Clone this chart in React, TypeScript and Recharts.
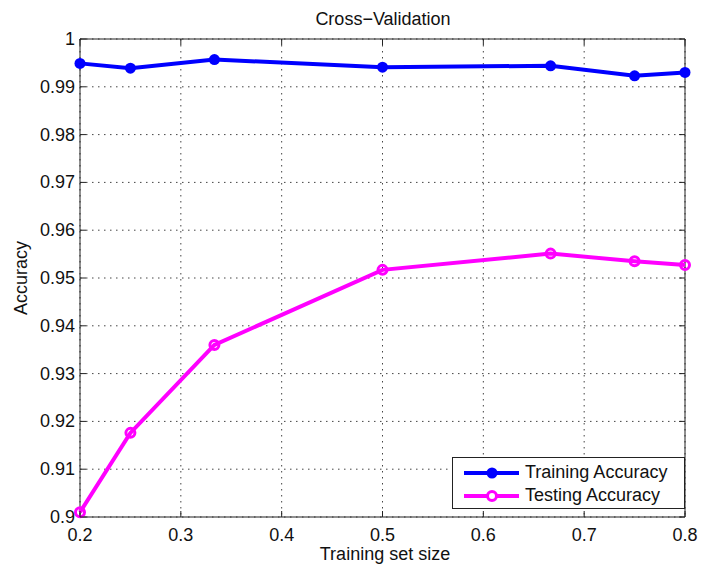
import { LineChart, Line, XAxis, YAxis, CartesianGrid, ReferenceArea } from 'recharts';

const trainSizes = [0.2, 0.25, 0.3333, 0.5, 0.6667, 0.75, 0.8];
const trainingAccuracy = [0.9949, 0.9939, 0.9957, 0.9941, 0.9944, 0.9923, 0.993];
const testingAccuracy = [0.901, 0.9176, 0.936, 0.9517, 0.9551, 0.9535, 0.9527];
const xTicks = [0.2, 0.3, 0.4, 0.5, 0.6, 0.7, 0.8];
const yTicks = [0.9, 0.91, 0.92, 0.93, 0.94, 0.95, 0.96, 0.97, 0.98, 0.99, 1];
const seriesNames = ['Training Accuracy', 'Testing Accuracy'];

const data = trainSizes.map((s, i) => ({
  size: s,
  train: trainingAccuracy[i],
  test: testingAccuracy[i],
}));

const W = 701;
const H = 568;
const PL = 80;
const PR = 685;
const PT = 39;
const PB = 517;
const FONT = '"Liberation Sans", Arial, Helvetica, sans-serif';

const XTick = (props: any) => {
  const { x, payload } = props;
  return (
    <g>
      <line x1={x} x2={x} y1={PB} y2={PB - 6} stroke="#222" strokeWidth={1} />
      <line x1={x} x2={x} y1={PT} y2={PT + 6} stroke="#222" strokeWidth={1} />
      <text x={x} y={PB + 24} textAnchor="middle" fontSize={18} fontFamily={FONT} fill="#111">
        {String(payload.value)}
      </text>
    </g>
  );
};

const YTick = (props: any) => {
  const { y, payload } = props;
  return (
    <g>
      <line x1={PL} x2={PL + 6} y1={y} y2={y} stroke="#222" strokeWidth={1} />
      <line x1={PR - 6} x2={PR} y1={y} y2={y} stroke="#222" strokeWidth={1} />
      <text x={PL - 5} y={y + 6} textAnchor="end" fontSize={18} fontFamily={FONT} fill="#111">
        {String(payload.value)}
      </text>
    </g>
  );
};

const LegendBox = () => (
  <div
    style={{
      position: 'absolute',
      left: 452,
      top: 457,
      width: 233,
      height: 52,
      border: '1px solid #222',
      background: '#fff',
      fontFamily: FONT,
      fontSize: 18,
      color: '#111',
      boxSizing: 'border-box',
      paddingTop: 3,
    }}
  >
    {[
      { name: seriesNames[0], color: '#0000ff', filled: true },
      { name: seriesNames[1], color: '#ff00ff', filled: false },
    ].map((it) => (
      <div key={it.name} style={{ display: 'flex', alignItems: 'center', height: 23 }}>
        <svg width={72} height={23} style={{ flex: 'none' }}>
          <line x1={11} x2={66} y1={12} y2={12} stroke={it.color} strokeWidth={4} />
          {it.filled ? (
            <circle cx={39} cy={12} r={5.5} fill={it.color} />
          ) : (
            <circle cx={39} cy={12} r={4.5} fill="#fff" stroke={it.color} strokeWidth={3} />
          )}
        </svg>
        <span>{it.name}</span>
      </div>
    ))}
  </div>
);

export default function App() {
  return (
    <div style={{ position: 'absolute', left: 0, top: 0, width: W, height: H, background: '#fff' }}>
      <LineChart
        width={W}
        height={H}
        data={data}
        margin={{ top: PT, right: W - PR, bottom: H - PB - 30, left: PL - 60 }}
      >
        <CartesianGrid stroke="#444" strokeDasharray="1.5 4.5" />
        <XAxis
          dataKey="size"
          type="number"
          domain={[0.2, 0.8]}
          ticks={xTicks}
          height={30}
          axisLine={false}
          tickLine={false}
          tickSize={0}
          tick={<XTick />}
        />
        <YAxis
          type="number"
          domain={[0.9, 1]}
          ticks={yTicks}
          width={60}
          axisLine={false}
          tickLine={false}
          tickSize={0}
          tick={<YTick />}
        />
        <ReferenceArea x1={0.2} x2={0.8} y1={0.9} y2={1} fill="none" stroke="#222" strokeWidth={1} fillOpacity={0} />
        <Line
          dataKey="train"
          name={seriesNames[0]}
          stroke="#0000ff"
          strokeWidth={4}
          dot={{ r: 5.5, fill: '#0000ff', stroke: 'none' }}
          isAnimationActive={false}
        />
        <Line
          dataKey="test"
          name={seriesNames[1]}
          stroke="#ff00ff"
          strokeWidth={4}
          dot={{ r: 4.5, fill: 'none', stroke: '#ff00ff', strokeWidth: 3 }}
          isAnimationActive={false}
        />
      </LineChart>
      <LegendBox />
      <svg width={W} height={H} style={{ position: 'absolute', left: 0, top: 0, pointerEvents: 'none' }}>
        <text x={383} y={25} textAnchor="middle" fontSize={18} fontFamily={FONT} fill="#111">
          Cross−Validation
        </text>
        <text x={385} y={560} textAnchor="middle" fontSize={18} fontFamily={FONT} fill="#111">
          Training set size
        </text>
        <text
          x={27}
          y={278}
          textAnchor="middle"
          fontSize={18}
          fontFamily={FONT}
          fill="#111"
          transform="rotate(-90 27 278)"
        >
          Accuracy
        </text>
      </svg>
    </div>
  );
}
